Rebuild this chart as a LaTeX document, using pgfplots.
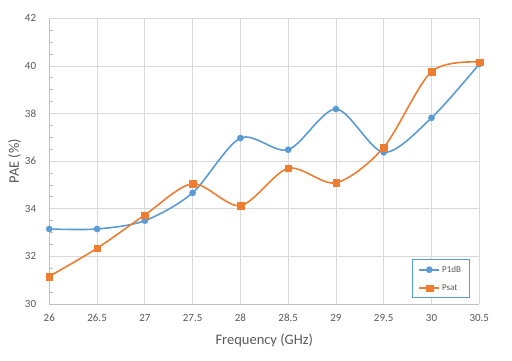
\documentclass[border=0pt]{standalone}
\usepackage{pgfplots}
\pgfplotsset{compat=1.18}
\usepackage{fontspec}
\setmainfont{Carlito}
\definecolor{cblue}{HTML}{5B9BD5}
\definecolor{corange}{HTML}{ED7D31}
\definecolor{cgrid}{HTML}{D9D9D9}
\definecolor{caxis}{HTML}{BFBFBF}
\definecolor{ctext}{HTML}{595959}
\begin{document}
\begin{tikzpicture}
\path[use as bounding box] (-49.3pt,-57pt) rectangle (462.7pt,304pt);
\begin{axis}[
  scale only axis,
  width=430pt, height=285.7pt,
  xmin=26, xmax=30.5, ymin=30, ymax=42,
  xtick={26,26.5,...,30.5},
  ytick={30,32,...,42},
  minor ytick={30.5,31,31.5,32.5,33,33.5,34.5,35,35.5,36.5,37,37.5,38.5,39,39.5,40.5,41,41.5},
  xticklabels={26,26.5,27,27.5,28,28.5,29,29.5,30,30.5},
  /pgf/number format/assume math mode=true,
  xmajorgrids, ymajorgrids,
  major grid style={cgrid, line width=0.8pt},
  axis x line*=bottom, axis y line*=left,
  axis line style={caxis, line width=0.8pt, -},
  major tick length=0pt,
  minor tick length=4pt,
  every minor tick/.append style={caxis, line width=0.8pt},
  tick align=inside,
  tick label style={font=\fontsize{11}{13}\selectfont, text=ctext, inner sep=0pt},
  xticklabel style={anchor=base, yshift=-18pt},
  yticklabel style={anchor=east, xshift=-13pt},
  yticklabel={\pgfmathprintnumber[fixed,precision=0]{\tick}},
  xlabel={Frequency (GHz)},
  ylabel={PAE (\%)},
  label style={font=\fontsize{14.5}{16}\selectfont, text=ctext},
  xlabel style={at={(axis description cs:0.5,-0.126)}, anchor=center},
  ylabel style={at={(axis description cs:-0.081,0.5)}, anchor=center},
  legend style={at={(0.977,0.02)}, anchor=south east, draw=cblue, line width=0.8pt,
    font=\fontsize{9}{10}\selectfont, text=ctext, inner xsep=6pt, inner ysep=4pt,
    row sep=7pt, cells={anchor=west}},
  legend image code/.code={\draw[mark repeat=2,mark phase=2] plot coordinates {(0pt,0pt) (10pt,0pt) (20pt,0pt)};},
  clip=false,
]
\addplot[cblue, line width=1.6pt, smooth, tension=0.5, mark=*, mark size=3.2pt, mark options={fill=cblue, draw=cblue, line width=0.2pt}]
  coordinates {(26,33.15) (26.5,33.15) (27,33.5) (27.5,34.67) (28,36.97) (28.5,36.48) (29,38.19) (29.5,36.37) (30,37.82) (30.5,40.08)};
\addlegendentry{P1dB}
\addplot[corange, line width=1.6pt, smooth, tension=0.5, mark=square*, mark size=3.3pt, mark options={fill=corange, draw=corange, line width=0.2pt}]
  coordinates {(26,31.16) (26.5,32.34) (27,33.74) (27.5,35.05) (28,34.13) (28.5,35.70) (29,35.09) (29.5,36.58) (30,39.76) (30.5,40.16)};
\addlegendentry{Psat}
\end{axis}
\end{tikzpicture}
\end{document}
